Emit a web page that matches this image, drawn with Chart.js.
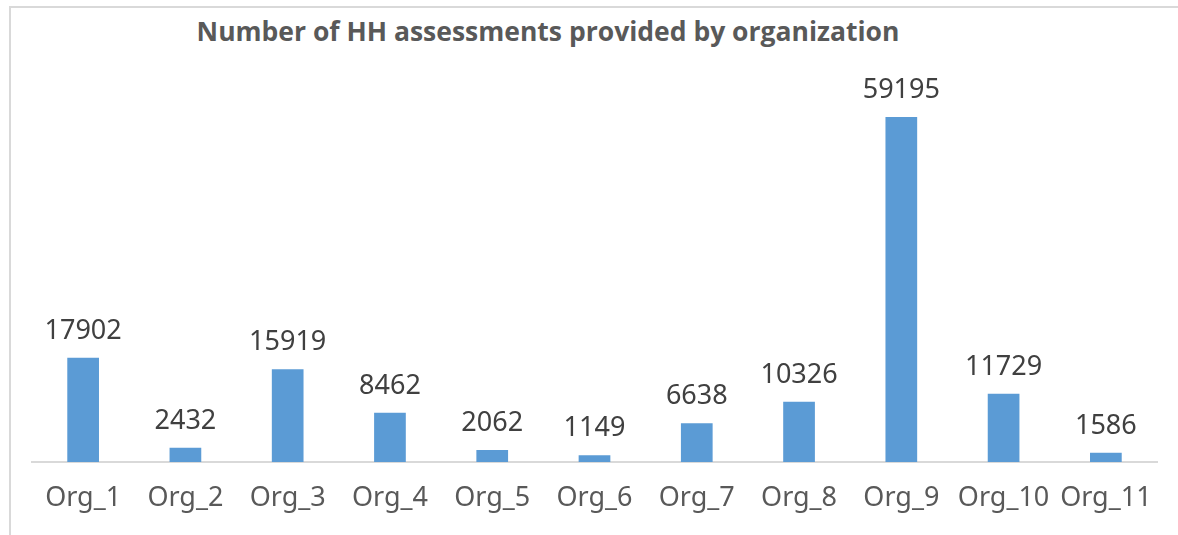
<!DOCTYPE html>
<html>
<head>
<meta charset="utf-8">
<script src="https://cdn.jsdelivr.net/npm/chart.js@4"></script>
<style>
  html, body { margin: 0; padding: 0; background: #fff; }
  #wrap { position: relative; width: 1178px; height: 535px; overflow: hidden; }
  #frame { position: absolute; left: 9px; top: 6px; width: 1300px; height: 600px;
           border-left: 2px solid #d9d9d9; border-top: 2px solid #d9d9d9; }
  #title { position: absolute; left: 148px; width: 800px; top: 13px; text-align: center;
           font: bold 26.5px "Open Sans", sans-serif; color: #595959; }
  canvas { position: absolute; left: 0; top: 0; }
</style>
</head>
<body>
<div id="wrap">
  <div id="frame"></div>
  <div id="title">Number of HH assessments provided by organization</div>
  <canvas id="barchart" width="1178" height="535"></canvas>
</div>
<script>
// chart data
const orgs = ["Org_1", "Org_2", "Org_3", "Org_4", "Org_5", "Org_6", "Org_7", "Org_8", "Org_9", "Org_10", "Org_11"];
const assessments = [17902, 2432, 15919, 8462, 2062, 1149, 6638, 10326, 59195, 11729, 1586];
const yMax = 70000;

// value labels over the bars
const barLabels = {
    id: "barLabels",
    afterDatasetsDraw(chart) {
        const ctx = chart.ctx;
        const meta = chart.getDatasetMeta(0);
        ctx.save();
        ctx.font = "27px 'Noto Sans', sans-serif";
        ctx.fillStyle = "#404040";
        ctx.textAlign = "center";
        ctx.textBaseline = "alphabetic";
        meta.data.forEach((bar, i) => {
            ctx.fillText(String(assessments[i]), bar.x, bar.y - 19);
        });
        ctx.restore();
    }
};

const ctx = document.getElementById("barchart");
new Chart(ctx, {
    type: "bar",
    data: {
        labels: orgs,
        datasets: [{
            label: "assessments",
            data: assessments,
            backgroundColor: "#5B9BD5",
            borderWidth: 0,
            categoryPercentage: 1,
            barPercentage: 0.31
        }]
    },
    options: {
        responsive: false,
        animation: false,
        layout: { padding: { left: 32, right: 21, top: 54, bottom: 0 } },
        plugins: { legend: { display: false }, tooltip: { enabled: false } },
        scales: {
            y: { display: false, min: 0, max: yMax },
            x: {
                grid: { display: false, drawTicks: false },
                border: { display: true, color: "#d9d9d9", width: 2 },
                ticks: { color: "#595959", font: { family: "'Noto Sans', sans-serif", size: 27 }, padding: 20, maxRotation: 0 },
                afterFit: (scale) => { scale.height = 73; }
            }
        }
    },
    plugins: [barLabels]
});
</script>
</body>
</html>
